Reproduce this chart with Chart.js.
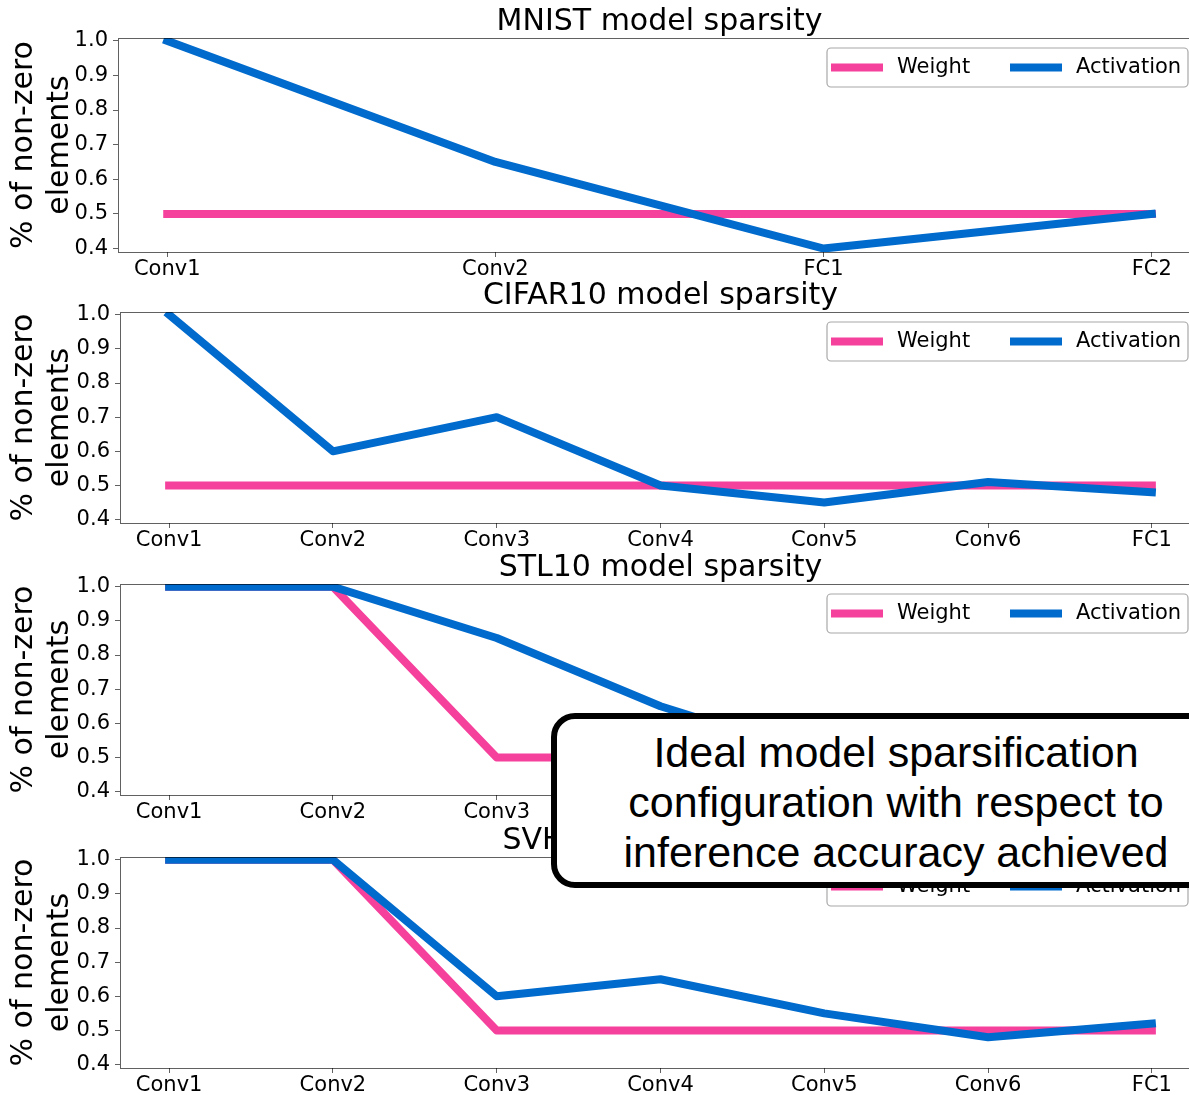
<!DOCTYPE html>
<html>
<head>
<meta charset="utf-8">
<script src="https://cdn.jsdelivr.net/npm/chart.js@4.4.1/dist/chart.umd.min.js"></script>
<style>
  html, body { margin: 0; padding: 0; width: 1189px; height: 1095px; overflow: hidden; background: #fff; }
  canvas.panel { position: absolute; left: 0; }
  .note {
    position: absolute; left: 551px; top: 713px; width: 690px; height: 175px;
    box-sizing: border-box; border: 6px solid #000; border-radius: 24px; background: #fff;
    font-family: "Liberation Sans", Arial, sans-serif; font-size: 43px; line-height: 50px;
    text-align: center; padding-top: 8px; color: #000; z-index: 5;
  }
</style>
</head>
<body>
<div id="wrap"></div>
<div class="note">Ideal model sparsification<br>configuration with respect to<br>inference accuracy achieved</div>
<script>
// Fraction of non-zero elements per layer
const mnistLayers = ['Conv1', 'Conv2', 'FC1', 'FC2'];
const mnistWeight = [0.5, 0.5, 0.5, 0.5];
const mnistActivation = [1.0, 0.65, 0.40, 0.50];

const cifarLayers = ['Conv1', 'Conv2', 'Conv3', 'Conv4', 'Conv5', 'Conv6', 'FC1'];
const cifarWeight = [0.5, 0.5, 0.5, 0.5, 0.5, 0.5, 0.5];
const cifarActivation = [1.0, 0.60, 0.70, 0.50, 0.45, 0.51, 0.48];

const stlLayers = ['Conv1', 'Conv2', 'Conv3', 'Conv4', 'Conv5', 'Conv6', 'FC1'];
const stlWeight = [1.0, 1.0, 0.5, 0.5, 0.5, 0.5, 0.5];
const stlActivation = [1.0, 1.0, 0.85, 0.65, 0.50, 0.50, 0.50];

const svhnLayers = ['Conv1', 'Conv2', 'Conv3', 'Conv4', 'Conv5', 'Conv6', 'FC1'];
const svhnWeight = [1.0, 1.0, 0.5, 0.5, 0.5, 0.5, 0.5];
const svhnActivation = [1.0, 1.0, 0.60, 0.65, 0.55, 0.48, 0.52];

const yTicks = [0.4, 0.5, 0.6, 0.7, 0.8, 0.9, 1.0];
const seriesNames = ['Weight', 'Activation'];
const yAxisTitle = ['% of non-zero', 'elements'];

const WEIGHT_COLOR = '#F5409C';
const ACT_COLOR = '#006BCD';
const FRAME_COLOR = 'rgba(0,0,0,0.62)';
const FONT = "'DejaVu Sans', sans-serif";

const panels = [
  { title: 'MNIST model sparsity',   layers: mnistLayers, weight: mnistWeight, activation: mnistActivation, plotTop: 38,  plotHeight: 214, axisWidth: 118 },
  { title: 'CIFAR10 model sparsity', layers: cifarLayers, weight: cifarWeight, activation: cifarActivation, plotTop: 312, plotHeight: 211, axisWidth: 120 },
  { title: 'STL10 model sparsity',   layers: stlLayers,   weight: stlWeight,   activation: stlActivation,   plotTop: 584, plotHeight: 211, axisWidth: 120 },
  { title: 'SVHN model sparsity',    layers: svhnLayers,  weight: svhnWeight,  activation: svhnActivation,  plotTop: 857, plotHeight: 211, axisWidth: 120 }
];

const TITLE_BLOCK = 35;
const XAXIS_BLOCK = 36;
const CANVAS_W = 1201;

Chart.defaults.font.family = FONT;
Chart.defaults.color = '#000';

// Box frame round the plot area plus an in-plot legend (upper right)
const frameAndLegend = {
  id: 'frameAndLegend',
  afterDraw(chart) {
    const { ctx, chartArea: a } = chart;
    ctx.save();
    ctx.strokeStyle = FRAME_COLOR;
    ctx.lineWidth = 1;
    ctx.strokeRect(Math.round(a.left) + 0.5, Math.round(a.top) + 0.5,
                   Math.round(a.right - a.left), Math.round(a.bottom - a.top));

    const w = 361, h = 39, r = 4;
    const x0 = a.right - 13 - w, y0 = a.top + 10;
    ctx.beginPath();
    ctx.moveTo(x0 + r, y0);
    ctx.lineTo(x0 + w - r, y0);
    ctx.arcTo(x0 + w, y0, x0 + w, y0 + r, r);
    ctx.lineTo(x0 + w, y0 + h - r);
    ctx.arcTo(x0 + w, y0 + h, x0 + w - r, y0 + h, r);
    ctx.lineTo(x0 + r, y0 + h);
    ctx.arcTo(x0, y0 + h, x0, y0 + h - r, r);
    ctx.lineTo(x0, y0 + r);
    ctx.arcTo(x0, y0, x0 + r, y0, r);
    ctx.closePath();
    ctx.fillStyle = 'rgba(255,255,255,0.85)';
    ctx.fill();
    ctx.strokeStyle = '#a8a8a8';
    ctx.lineWidth = 1.2;
    ctx.stroke();

    const cy = y0 + h / 2;
    const offsets = [4, 183];
    chart.data.datasets.forEach((ds, i) => {
      const sx = x0 + offsets[i];
      ctx.beginPath();
      ctx.strokeStyle = ds.borderColor;
      ctx.lineWidth = 8;
      ctx.lineCap = 'butt';
      ctx.moveTo(sx, cy);
      ctx.lineTo(sx + 52, cy);
      ctx.stroke();
      ctx.fillStyle = '#000';
      ctx.font = '21px ' + FONT;
      ctx.textAlign = 'left';
      ctx.textBaseline = 'middle';
      ctx.fillText(ds.label, sx + 66, cy);
    });
    ctx.restore();
  }
};

const wrap = document.getElementById('wrap');

panels.forEach(p => {
  const canvas = document.createElement('canvas');
  canvas.className = 'panel';
  canvas.width = CANVAS_W;
  canvas.height = TITLE_BLOCK + p.plotHeight + XAXIS_BLOCK;
  canvas.style.top = (p.plotTop - TITLE_BLOCK) + 'px';
  canvas.style.width = CANVAS_W + 'px';
  canvas.style.height = canvas.height + 'px';
  wrap.appendChild(canvas);

  const n = p.layers.length;
  const pad = 0.05 * (n - 1);
  const toPoints = arr => arr.map((v, i) => ({ x: i, y: v }));

  new Chart(canvas, {
    type: 'line',
    data: {
      datasets: [
        { label: seriesNames[0], data: toPoints(p.weight), borderColor: WEIGHT_COLOR, order: 1 },
        { label: seriesNames[1], data: toPoints(p.activation), borderColor: ACT_COLOR, order: 0 }
      ].map(ds => Object.assign(ds, {
        borderWidth: 8, pointRadius: 0, pointHoverRadius: 0, tension: 0,
        borderCapStyle: 'square', borderJoinStyle: 'round', fill: false, clip: 0
      }))
    },
    options: {
      responsive: false,
      animation: false,
      devicePixelRatio: 1,
      events: [],
      layout: { padding: 0 },
      plugins: {
        legend: { display: false },
        tooltip: { enabled: false },
        title: {
          display: true,
          text: p.title,
          fullSize: false,
          color: '#000',
          font: { size: 30, weight: 'normal', family: FONT, lineHeight: 1.0 },
          padding: { top: 4, bottom: 1 }
        }
      },
      scales: {
        x: {
          type: 'linear',
          min: -pad,
          max: (n - 1) + pad,
          border: { display: false },
          grid: { drawOnChartArea: false, drawTicks: true, tickLength: 5, color: FRAME_COLOR, tickColor: FRAME_COLOR },
          afterBuildTicks: s => { s.ticks = p.layers.map((_, i) => ({ value: i })); },
          afterFit: s => { s.height = XAXIS_BLOCK; },
          ticks: {
            autoSkip: false, maxRotation: 0, minRotation: 0, padding: 0,
            font: { size: 21, family: FONT },
            callback: v => p.layers[v]
          }
        },
        y: {
          type: 'linear',
          min: 0.39,
          max: 1.008,
          border: { display: false },
          grid: { drawOnChartArea: false, drawTicks: true, tickLength: 5, color: FRAME_COLOR, tickColor: FRAME_COLOR },
          afterBuildTicks: s => { s.ticks = yTicks.map(v => ({ value: v })); },
          afterFit: s => { s.width = p.axisWidth; },
          ticks: {
            padding: 5,
            font: { size: 21, family: FONT },
            callback: v => Number(v).toFixed(1)
          },
          title: {
            display: true,
            text: yAxisTitle,
            color: '#000',
            font: { size: 30, family: FONT, lineHeight: 1.2 },
            padding: { top: 6, bottom: 0 }
          }
        }
      }
    },
    plugins: [frameAndLegend]
  });
});
</script>
</body>
</html>
